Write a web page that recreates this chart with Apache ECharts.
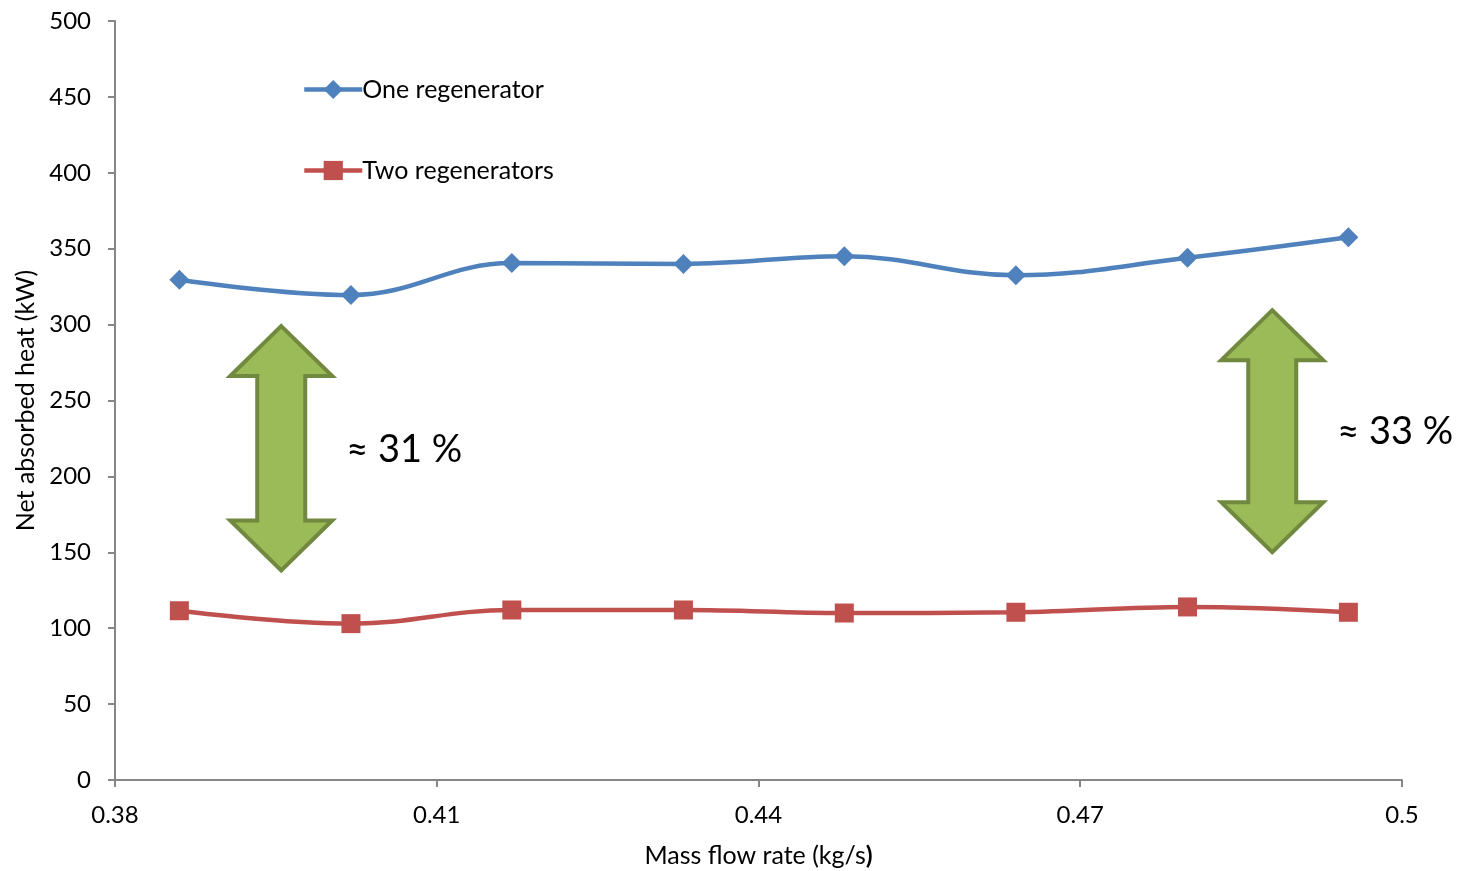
<!DOCTYPE html>
<html>
<head>
<meta charset="utf-8">
<style>
  html, body { margin: 0; padding: 0; background: #ffffff; }
  #chart { width: 1460px; height: 871px; }
</style>
<script src="https://cdn.jsdelivr.net/npm/echarts@6/dist/echarts.min.js"></script>
</head>
<body>
<div id="chart"></div>
<script>
// Mass flow rate (kg/s) for each operating point
const massFlow = [0.386, 0.402, 0.417, 0.433, 0.448, 0.464, 0.480, 0.495];
// Net absorbed heat (kW)
const oneRegenerator = [329.5, 319.5, 340.5, 340, 345, 332.5, 344, 357.5];
const twoRegenerators = [111.5, 103, 112, 112, 110, 110.5, 114, 110.5];

const seriesNames = ['One regenerator', 'Two regenerators'];
const xTicks = [0.38, 0.41, 0.44, 0.47, 0.5];
const yTicks = [0, 50, 100, 150, 200, 250, 300, 350, 400, 450, 500];

// Double arrows marking the gap between the curves: [centre x, top y, bottom y, label]
const gapArrows = [
  { x: 0.3955, top: 299, bottom: 138, label: '≈ 31 %' },
  { x: 0.4879, top: 309.5, bottom: 150, label: '≈ 33 %' }
];

const FONT = 'Lato, "Open Sans", sans-serif';
const AXIS_GREY = '#868686';

const chart = echarts.init(document.getElementById('chart'), null, { renderer: 'canvas' });

const pairs = arr => massFlow.map((x, i) => [x, arr[i]]);

chart.setOption({
  animation: false,
  backgroundColor: '#ffffff',
  grid: { left: 115, right: 58, top: 21, bottom: 91, containLabel: false, outerBoundsMode: 'none' },
  legend: {
    orient: 'vertical',
    left: 297,
    top: 72,
    itemWidth: 58,
    itemHeight: 24,
    itemGap: 56,
    data: seriesNames,
    lineStyle: { width: 'inherit' },
    textStyle: { fontFamily: FONT, fontSize: 25, color: '#000', padding: [0, 0, 0, -5] }
  },
  xAxis: {
    type: 'value',
    min: xTicks[0],
    max: xTicks[xTicks.length - 1],
    interval: 0.03,
    name: 'Mass flow rate (kg/s{b|)}',
    nameLocation: 'middle',
    nameGap: 63,
    nameTextStyle: {
      fontFamily: FONT, fontSize: 25, color: '#000',
      rich: { b: { fontFamily: FONT, fontSize: 25, fontWeight: 'bold', color: '#000' } }
    },
    axisLine: { lineStyle: { color: AXIS_GREY, width: 2 } },
    axisTick: { length: 7, lineStyle: { color: AXIS_GREY, width: 2 } },
    axisLabel: {
      fontFamily: FONT, fontSize: 24, color: '#000', margin: 23,
      formatter: v => String(parseFloat(v.toFixed(2)))
    },
    splitLine: { show: false }
  },
  yAxis: {
    type: 'value',
    min: yTicks[0],
    max: yTicks[yTicks.length - 1],
    interval: 50,
    name: 'Net absorbed heat (kW)',
    nameLocation: 'middle',
    nameGap: 76,
    nameTextStyle: { fontFamily: FONT, fontSize: 25, color: '#000' },
    axisLine: { show: true, lineStyle: { color: AXIS_GREY, width: 2 } },
    axisTick: { show: true, length: 7, lineStyle: { color: AXIS_GREY, width: 2 } },
    axisLabel: { fontFamily: FONT, fontSize: 24, color: '#000', margin: 24 },
    splitLine: { show: false }
  },
  series: [
    {
      name: seriesNames[0],
      type: 'line',
      smooth: 0.4,
      data: pairs(oneRegenerator),
      symbol: 'diamond',
      symbolSize: 20,
      lineStyle: { color: '#4F81BD', width: 4.5 },
      itemStyle: { color: '#4F81BD' }
    },
    {
      name: seriesNames[1],
      type: 'line',
      smooth: 0.4,
      data: pairs(twoRegenerators),
      symbol: 'rect',
      symbolSize: 19,
      lineStyle: { color: '#C0504D', width: 4.5 },
      itemStyle: { color: '#C0504D' }
    }
  ]
});

// Build the green double-headed arrows in data space
function arrowGraphics() {
  const els = [];
  gapArrows.forEach(a => {
    const top = chart.convertToPixel({ gridIndex: 0 }, [a.x, a.top]);
    const bot = chart.convertToPixel({ gridIndex: 0 }, [a.x, a.bottom]);
    const cx = top[0];
    const headH = 50, headHalf = 51, shaftHalf = 24;
    const t = top[1], b = bot[1];
    els.push({
      type: 'polygon',
      shape: {
        points: [
          [cx, t],
          [cx + headHalf, t + headH],
          [cx + shaftHalf, t + headH],
          [cx + shaftHalf, b - headH],
          [cx + headHalf, b - headH],
          [cx, b],
          [cx - headHalf, b - headH],
          [cx - shaftHalf, b - headH],
          [cx - shaftHalf, t + headH],
          [cx - headHalf, t + headH]
        ]
      },
      style: { fill: '#9BBB59', stroke: '#71893F', lineWidth: 4, lineJoin: 'miter' }
    });
    els.push({
      type: 'text',
      x: cx + headHalf + 14,
      y: (t + b) / 2 + 1,
      style: {
        text: a.label,
        fontFamily: FONT,
        fontSize: 38,
        fill: '#000',
        verticalAlign: 'middle'
      }
    });
  });
  return els;
}

chart.setOption({ graphic: { elements: arrowGraphics() } });
</script>
</body>
</html>
